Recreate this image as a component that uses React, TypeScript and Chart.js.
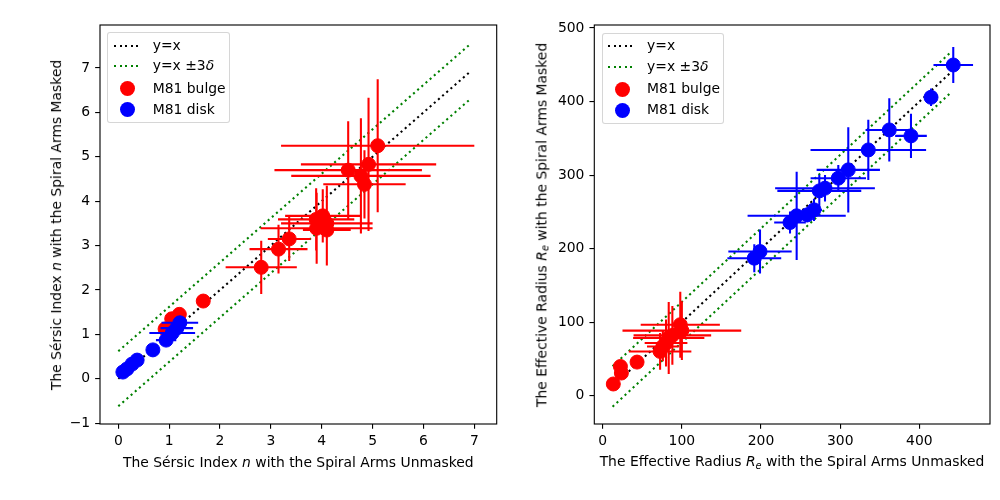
import React, { useEffect, useRef } from "react";
import { Chart, registerables } from "chart.js";

Chart.register(...registerables);

// ---------- Left panel: Sérsic index n ----------
const N_BULGE_X = [5.1, 4.52, 4.92, 4.77, 4.84, 4.02, 3.89, 4.1, 3.9, 4.1, 3.36, 3.15, 2.81, 1.67, 1.2, 1.05, 0.92];
const N_BULGE_Y = [5.25, 4.7, 4.83, 4.57, 4.38, 3.67, 3.59, 3.5, 3.39, 3.35, 3.15, 2.92, 2.51, 1.75, 1.45, 1.35, 1.12];
const N_BULGE_XERR = [1.9, 1.45, 1.33, 1.37, 0.81, 0.74, 0.75, 0.9, 1.1, 0.47, 0.42, 0.57, 0.7, 0, 0, 0, 0];
const N_BULGE_YERR = [1.5, 1.1, 1.5, 1.3, 0.77, 0.6, 0.7, 0.85, 0.8, 0.8, 0.5, 0.55, 0.6, 0, 0, 0, 0];

const N_DISK_X = [1.21, 1.15, 1.06, 0.94, 0.68, 0.37, 0.27, 0.17, 0.09];
const N_DISK_Y = [1.26, 1.14, 1.03, 0.87, 0.65, 0.42, 0.33, 0.22, 0.15];
const N_DISK_XERR = [0.36, 0.32, 0.45, 0.2, 0, 0, 0, 0, 0];
const N_DISK_YERR = [0.12, 0.1, 0.15, 0.12, 0, 0, 0, 0, 0];

const N_LINE_X = [0, 6.93];
const N_DELTA3 = 0.62;
const N_TICKS_X = [0, 1, 2, 3, 4, 5, 6, 7];
const N_TICKS_Y = [-1, 0, 1, 2, 3, 4, 5, 6, 7];
const N_RANGE_X = [-0.36, 7.44];
const N_RANGE_Y = [-1.02, 7.97];

// ---------- Right panel: effective radius Re ----------
const RE_BULGE_X = [13.4, 23.6, 22.4, 43.4, 98, 100, 88, 83.4, 80, 72.5, 76];
const RE_BULGE_Y = [15.9, 30.8, 39.7, 45.7, 96.5, 88.5, 82, 78.4, 71.6, 60.2, 67];
const RE_BULGE_XERR = [0, 0, 0, 0, 50, 75, 49, 45, 27, 39.5, 20];
const RE_BULGE_YERR = [0, 0, 0, 0, 45, 40, 40, 49, 32, 25, 20];

const RE_DISK_X = [442.8, 414.7, 362, 389.4, 335.5, 310.2, 297.6, 280.8, 273.6, 266.9, 258.4, 245, 236.6, 198.7, 191.5];
const RE_DISK_Y = [449.7, 405.8, 361.4, 353.3, 334.2, 307.1, 295.8, 282.2, 278.5, 252.7, 245.9, 244.6, 235.5, 196, 187];
const RE_DISK_XERR = [25, 0, 30, 20, 73, 40, 35, 63, 53, 10, 8, 62, 20, 40, 34];
const RE_DISK_YERR = [24.5, 12, 43, 30, 41, 58, 18, 18, 22, 15, 10, 60, 15, 30, 19];

const RE_LINE_X = [12.5, 441];
const RE_DELTA3 = 27.5;
const RE_TICKS_X = [0, 100, 200, 300, 400];
const RE_TICKS_Y = [0, 100, 200, 300, 400, 500];
const RE_RANGE_X = [-10.6, 489.2];
const RE_RANGE_Y = [-38.5, 504.1];

const FONT = "'DejaVu Sans', sans-serif";
const FS = 13.9;
const LW = 2.08;
const AXLW = 1.11;

function errPoints(xs: number[], ys: number[], exs: number[], eys: number[]) {
  const pts: { x: number; y: number | null }[] = [];
  for (let i = 0; i < xs.length; i++) {
    if (exs[i] > 0) {
      pts.push({ x: xs[i] - exs[i], y: ys[i] }, { x: xs[i] + exs[i], y: ys[i] }, { x: xs[i], y: null });
    }
    if (eys[i] > 0) {
      pts.push({ x: xs[i], y: ys[i] - eys[i] }, { x: xs[i], y: ys[i] + eys[i] }, { x: xs[i], y: null });
    }
  }
  return pts;
}

function pts(xs: number[], ys: number[]) {
  return xs.map((x, i) => ({ x, y: ys[i] }));
}

const fmt = (v: number) => (v < 0 ? "\u2212" + Math.abs(v) : String(v));

const boxPlugin = {
  id: "frameBox",
  afterDraw(chart: any) {
    const { ctx, chartArea: a } = chart;
    ctx.save();
    ctx.strokeStyle = "#000";
    ctx.lineWidth = AXLW;
    ctx.strokeRect(a.left, a.top, a.right - a.left, a.bottom - a.top);
    ctx.restore();
  },
};

type PanelProps = {
  bulge: [number[], number[], number[], number[]];
  disk: [number[], number[], number[], number[]];
  lineX: number[];
  delta3: number;
  ticksX: number[];
  ticksY: number[];
  rangeX: number[];
  rangeY: number[];
  yAxisWidth: number;
  padRight: number;
};

function Panel(p: PanelProps) {
  const ref = useRef<HTMLCanvasElement>(null);
  useEffect(() => {
    if (!ref.current) return;
    const dotted = [LW, LW * 1.65];
    const [x0, x1] = p.lineX;
    const chart = new Chart(ref.current, {
      type: "scatter",
      data: {
        datasets: [
          {
            data: pts(p.disk[0], p.disk[1]),
            backgroundColor: "#0000ff",
            borderColor: "#0000ff",
            pointRadius: 7,
            pointBorderWidth: 1,
          },
          {
            data: errPoints(p.disk[0], p.disk[1], p.disk[2], p.disk[3]) as any,
            showLine: true,
            spanGaps: false,
            borderColor: "#0000ff",
            borderWidth: LW,
            pointRadius: 0,
          },
          {
            data: pts(p.bulge[0], p.bulge[1]),
            backgroundColor: "#ff0000",
            borderColor: "#ff0000",
            pointRadius: 7,
            pointBorderWidth: 1,
          },
          {
            data: errPoints(p.bulge[0], p.bulge[1], p.bulge[2], p.bulge[3]) as any,
            showLine: true,
            spanGaps: false,
            borderColor: "#ff0000",
            borderWidth: LW,
            pointRadius: 0,
          },
          {
            data: [
              { x: x0, y: x0 + p.delta3 },
              { x: x1, y: x1 + p.delta3 },
            ],
            showLine: true,
            borderColor: "#008000",
            borderWidth: LW,
            borderDash: dotted,
            pointRadius: 0,
          },
          {
            data: [
              { x: x0, y: x0 - p.delta3 },
              { x: x1, y: x1 - p.delta3 },
            ],
            showLine: true,
            borderColor: "#008000",
            borderWidth: LW,
            borderDash: dotted,
            pointRadius: 0,
          },
          {
            data: [
              { x: x0, y: x0 },
              { x: x1, y: x1 },
            ],
            showLine: true,
            borderColor: "#000000",
            borderWidth: LW,
            borderDash: dotted,
            pointRadius: 0,
          },
        ],
      },
      options: {
        animation: false,
        responsive: false,
        events: [],
        layout: { autoPadding: false, padding: { top: 25, right: p.padRight, left: 0, bottom: 0 } },
        plugins: { legend: { display: false }, tooltip: { enabled: false } },
        scales: {
          x: {
            type: "linear",
            min: p.rangeX[0],
            max: p.rangeX[1],
            afterBuildTicks: (s: any) => {
              s.ticks = p.ticksX.map((v) => ({ value: v }));
            },
            afterFit: (s: any) => {
              s.height = 76;
              s.paddingLeft = 0;
              s.paddingRight = 0;
              s.paddingTop = 0;
              s.paddingBottom = 0;
            },
            grid: { drawOnChartArea: false, drawTicks: true, tickLength: 4.86, color: "#000", lineWidth: AXLW },
            border: { display: false },
            ticks: {
              color: "#000",
              font: { size: FS, family: FONT },
              padding: 4,
              maxRotation: 0,
              autoSkip: false,
              callback: (v: any) => fmt(Number(v)),
            },
          },
          y: {
            type: "linear",
            min: p.rangeY[0],
            max: p.rangeY[1],
            afterBuildTicks: (s: any) => {
              s.ticks = p.ticksY.map((v) => ({ value: v }));
            },
            afterFit: (s: any) => {
              s.width = p.yAxisWidth;
              s.paddingLeft = 0;
              s.paddingRight = 0;
              s.paddingTop = 0;
              s.paddingBottom = 0;
            },
            grid: { drawOnChartArea: false, drawTicks: true, tickLength: 4.86, color: "#000", lineWidth: AXLW },
            border: { display: false },
            ticks: {
              color: "#000",
              font: { size: FS, family: FONT },
              padding: 5,
              autoSkip: false,
              callback: (v: any) => fmt(Number(v)),
            },
          },
        },
      } as any,
      plugins: [boxPlugin],
    });
    return () => chart.destroy();
  }, []);
  return <canvas ref={ref} width={500} height={500} style={{ width: 500, height: 500, display: "block" }} />;
}

const textStyle: React.CSSProperties = {
  position: "absolute",
  fontFamily: FONT,
  fontSize: FS,
  color: "#000",
  whiteSpace: "nowrap",
  lineHeight: 1,
};

function Legend({ left, top }: { left: number; top: number }) {
  const row = (y: number): React.CSSProperties => ({ ...textStyle, left: 44.4, top: y, transform: "translateY(-50%)" });
  const line = (y: number, color: string): React.CSSProperties => ({
    position: "absolute",
    left: 5.5,
    top: y - LW / 2,
    width: 28,
    height: LW,
    background: `repeating-linear-gradient(to right, ${color} 0 ${LW}px, transparent ${LW}px ${LW * 2.65}px)`,
  });
  const dot = (y: number, color: string): React.CSSProperties => ({
    position: "absolute",
    left: 19.4 - 7.5,
    top: y - 7.5,
    width: 15,
    height: 15,
    borderRadius: "50%",
    background: color,
  });
  return (
    <div
      style={{
        position: "absolute",
        left,
        top,
        width: 122.7,
        height: 91,
        boxSizing: "border-box",
        background: "rgba(255,255,255,0.8)",
        border: "1px solid rgba(204,204,204,0.8)",
        borderRadius: 3,
      }}
    >
      <div style={line(12.5, "#000")} />
      <div style={row(12.5)}>y=x</div>
      <div style={line(33, "#008000")} />
      <div style={row(33)}>
        y=x ±3<i>δ</i>
      </div>
      <div style={dot(55.5, "#ff0000")} />
      <div style={row(55.5)}>M81 bulge</div>
      <div style={dot(76.5, "#0000ff")} />
      <div style={row(76.5)}>M81 disk</div>
    </div>
  );
}

export default function App() {
  return (
    <div style={{ position: "fixed", left: 0, top: 0, width: 1000, height: 500, background: "#fff", overflow: "hidden" }}>
      <div style={{ position: "absolute", left: 0, top: 0 }}>
        <Panel
          bulge={[N_BULGE_X, N_BULGE_Y, N_BULGE_XERR, N_BULGE_YERR]}
          disk={[N_DISK_X, N_DISK_Y, N_DISK_XERR, N_DISK_YERR]}
          lineX={N_LINE_X}
          delta3={N_DELTA3}
          ticksX={N_TICKS_X}
          ticksY={N_TICKS_Y}
          rangeX={N_RANGE_X}
          rangeY={N_RANGE_Y}
          yAxisWidth={100}
          padRight={3.3}
        />
      </div>
      <div style={{ position: "absolute", left: 500, top: 0 }}>
        <Panel
          bulge={[RE_BULGE_X, RE_BULGE_Y, RE_BULGE_XERR, RE_BULGE_YERR]}
          disk={[RE_DISK_X, RE_DISK_Y, RE_DISK_XERR, RE_DISK_YERR]}
          lineX={RE_LINE_X}
          delta3={RE_DELTA3}
          ticksX={RE_TICKS_X}
          ticksY={RE_TICKS_Y}
          rangeX={RE_RANGE_X}
          rangeY={RE_RANGE_Y}
          yAxisWidth={94.3}
          padRight={10}
        />
      </div>
      <div style={{ ...textStyle, left: 298.3, top: 463, transform: "translate(-50%, -50%)" }}>
        The Sérsic Index <i>n</i> with the Spiral Arms Unmasked
      </div>
      <div style={{ ...textStyle, left: 57, top: 224.5, transform: "translate(-50%, -50%) rotate(-90deg)" }}>
        The Sérsic Index <i>n</i> with the Spiral Arms Masked
      </div>
      <div style={{ ...textStyle, left: 792, top: 463, transform: "translate(-50%, -50%)" }}>
        The Effective Radius <i>R</i>
        <sub style={{ fontSize: FS * 0.7, fontStyle: "italic", verticalAlign: "-0.25em" }}>e</sub> with the Spiral Arms Unmasked
      </div>
      <div style={{ ...textStyle, left: 542.5, top: 224.5, transform: "translate(-50%, -50%) rotate(-90deg)" }}>
        The Effective Radius <i>R</i>
        <sub style={{ fontSize: FS * 0.7, fontStyle: "italic", verticalAlign: "-0.25em" }}>e</sub> with the Spiral Arms Masked
      </div>
      <Legend left={107.3} top={32.3} />
      <Legend left={601.7} top={32.7} />
    </div>
  );
}
